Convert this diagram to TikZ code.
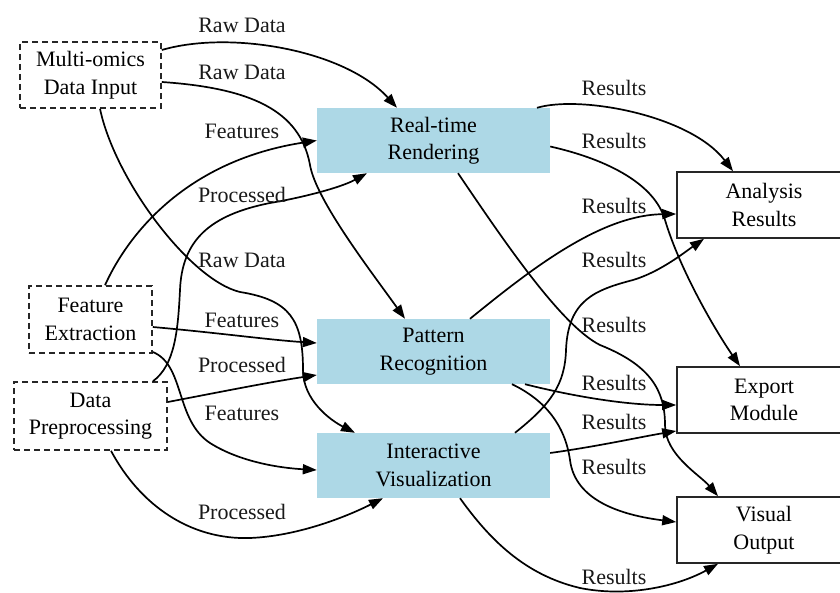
\documentclass[tikz,border=0pt]{standalone}
\usepackage{fontspec}
\setmainfont{Liberation Serif}
\usetikzlibrary{arrows.meta}
\definecolor{lblue}{RGB}{173,216,230}
\begin{document}
\begin{tikzpicture}[x=1pt,y=-1pt,
  font=\fontsize{22}{27.5}\selectfont,
  srcbox/.style={draw=black!85, dash pattern=on 6pt off 4pt, line width=1.6pt, inner sep=0pt, align=center},
  procbox/.style={fill=lblue, minimum width=233pt, minimum height=65pt, inner sep=0pt, align=center},
  outbox/.style={draw=black!85, fill=white, line width=1.6pt, minimum width=174pt, minimum height=66pt, inner sep=0pt, align=center},
  flow/.style={line width=1.7pt, black, -{Triangle[length=14pt,width=10pt]}},
  lbl/.style={anchor=base, inner sep=0pt, text=black!90}
]
\useasboundingbox (0,0) rectangle (840,593);
\clip (0,0) rectangle (840,593);

% nodes
\node[srcbox, minimum width=141pt, minimum height=66pt] (multi) at (90.5,75) {Multi-omics\\Data Input};
\node[srcbox, minimum width=123pt, minimum height=67pt] (feat) at (90.5,319.5) {Feature\\Extraction};
\node[srcbox, minimum width=153pt, minimum height=68pt] (prep) at (90.5,416) {Data\\Preprocessing};
\node[procbox] (rt) at (433.5,140.5) {Real-time\\Rendering};
\node[procbox] (pr) at (433.5,351.5) {Pattern\\Recognition};
\node[procbox] (iv) at (433.5,465.5) {Interactive\\Visualization};
\node[outbox] (ar) at (764,205) {Analysis\\Results};
\node[outbox] (em) at (764,400) {Export\\Module};
\node[outbox] (vo) at (764,530) {Visual\\Output};

% left-side edges
\draw[flow] ([yshift=25pt]multi.east) .. controls (230,30) and (345,50) .. ([xshift=-36.5pt]rt.north);
\draw[flow] ([yshift=-7pt]multi.east) .. controls (250,88) and (300,110) .. (310,165) .. controls (316,200) and (370,270) .. ([xshift=-28.5pt]pr.north);
\draw[flow] ([xshift=9.5pt]multi.south) .. controls (115,180) and (190,280) .. (240,292) .. controls (290,300) and (303,320) .. (303,370) .. controls (303,400) and (330,420) .. ([xshift=-78.5pt]iv.north);
\draw[flow] ([xshift=14.5pt]feat.north) .. controls (130,230) and (190,160) .. (rt.west);
\draw[flow] ([yshift=-7.5pt]feat.east) .. controls (220,333) and (270,340) .. ([yshift=8.5pt]pr.west);
\draw[flow] ([yshift=-32.5pt]feat.east) .. controls (185,365) and (175,420) .. (210,443) .. controls (240,462) and (280,468) .. ([yshift=-4.5pt]iv.west);
\draw[flow] ([xshift=62.5pt]prep.north) .. controls (175,365) and (178,330) .. (180,290) .. controls (182,240) and (210,215) .. (270,203) .. controls (300,198) and (340,188) .. ([xshift=-66.5pt]rt.south);
\draw[flow] ([yshift=14pt]prep.east) .. controls (220,392) and (270,382) .. ([yshift=-23.5pt]pr.west);
\draw[flow] ([xshift=20.5pt]prep.south) .. controls (140,505) and (190,540) .. (250,538) .. controls (300,536) and (350,515) .. ([xshift=-50.5pt]iv.south);

% right-side edges
\draw[flow] ([xshift=103.5pt]rt.north) .. controls (580,95) and (690,115) .. ([xshift=-31pt]ar.north);
\draw[flow] ([yshift=-6pt]rt.east) .. controls (610,160) and (655,185) .. (665,220) .. controls (680,270) and (715,330) .. ([xshift=-24pt]em.north);
\draw[flow] ([xshift=24.5pt]rt.south) .. controls (500,235) and (560,325) .. (600,345) .. controls (650,365) and (665,390) .. (665,425) .. controls (665,455) and (700,475) .. ([xshift=-46pt]vo.north);
\draw[flow] ([xshift=36.5pt]pr.north) .. controls (530,270) and (600,215) .. ([yshift=-9pt]ar.west);
\draw[flow] ([xshift=81.5pt]iv.north) .. controls (550,405) and (565,385) .. (566,350) .. controls (568,300) and (595,290) .. (633,280) .. controls (660,272) and (685,252) .. ([xshift=-60pt]ar.south);
\draw[flow] ([xshift=91.5pt]pr.south) .. controls (580,398) and (630,405) .. ([yshift=-5pt]em.west);
\draw[flow] ([yshift=12.5pt]iv.east) .. controls (600,446) and (640,437) .. ([yshift=-31pt]em.west);
\draw[flow] ([xshift=78.5pt]pr.south) .. controls (545,400) and (565,425) .. (570,460) .. controls (575,500) and (620,515) .. ([yshift=8pt]vo.west);
\draw[flow] ([xshift=26.5pt]iv.south) .. controls (490,540) and (525,575) .. (580,588) .. controls (630,598) and (680,585) .. ([xshift=-46pt]vo.south);

% labels
\node[lbl] (l1) at (242,33) {Raw Data};
\node[lbl] (l2) at (242,80) {Raw Data};
\node[lbl] (l3) at (242,268) {Raw Data};
\node[lbl] (l4) at (242,139) {Features};
\node[lbl] (l5) at (242,327) {Features};
\node[lbl] (l6) at (242,420) {Features};
\node[lbl] (l7) at (242,203) {Processed};
\node[lbl] (l8) at (242,372) {Processed};
\node[lbl] (l9) at (242,519) {Processed};
\node[lbl] (r1) at (614,96) {Results};
\node[lbl] (r2) at (614,149) {Results};
\node[lbl] (r3) at (614,214) {Results};
\node[lbl] (r4) at (614,268) {Results};
\node[lbl] (r5) at (614,333) {Results};
\node[lbl] (r6) at (614,390) {Results};
\node[lbl] (r7) at (614,429) {Results};
\node[lbl] (r8) at (614,474) {Results};
\node[lbl] (r9) at (614,584) {Results};
\end{tikzpicture}
\end{document}
